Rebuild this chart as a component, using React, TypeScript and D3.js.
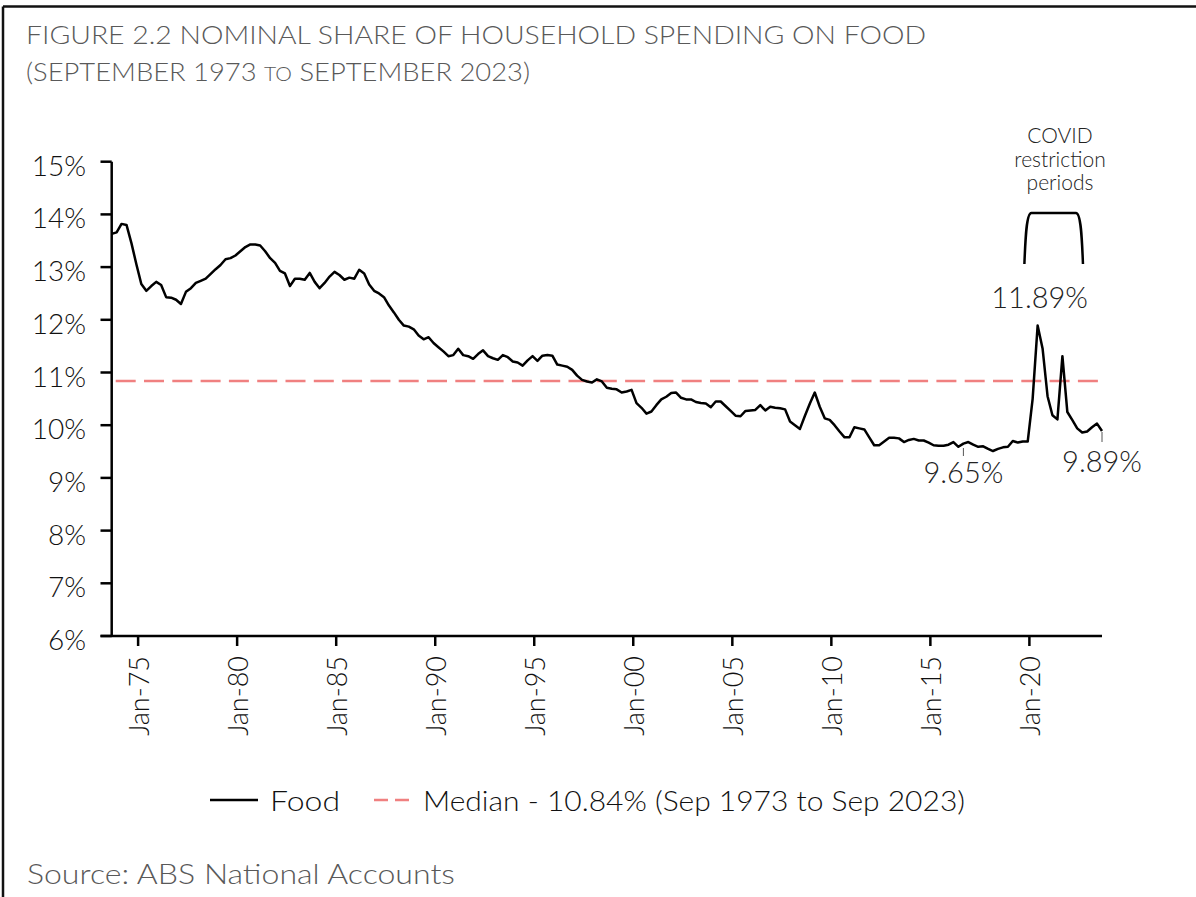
import React from "react";
import * as d3 from "d3";

// Quarterly nominal share of household spending on food (%), Sep 1973 .. Sep 2023
const foodShare: number[] = [
  13.63, 13.66, 13.82, 13.80, 13.45, 13.05, 12.68, 12.55, 12.64, 12.72,
  12.66, 12.43, 12.42, 12.38, 12.30, 12.53, 12.60, 12.70, 12.74, 12.78,
  12.87, 12.96, 13.04, 13.15, 13.17, 13.22, 13.30, 13.38, 13.43, 13.43,
  13.41, 13.30, 13.17, 13.08, 12.93, 12.88, 12.64, 12.78, 12.78, 12.76,
  12.89, 12.72, 12.60, 12.70, 12.82, 12.91, 12.85, 12.76, 12.80, 12.78,
  12.95, 12.88, 12.67, 12.55, 12.50, 12.43, 12.27, 12.14, 12.00, 11.89,
  11.87, 11.82, 11.70, 11.63, 11.67, 11.56, 11.48, 11.40, 11.31, 11.33,
  11.45, 11.33, 11.31, 11.26, 11.35, 11.42, 11.31, 11.27, 11.24, 11.33,
  11.29, 11.21, 11.19, 11.13, 11.23, 11.31, 11.22, 11.32, 11.33, 11.32,
  11.15, 11.13, 11.11, 11.05, 10.94, 10.86, 10.83, 10.81, 10.87, 10.83,
  10.71, 10.69, 10.68, 10.62, 10.64, 10.67, 10.42, 10.33, 10.22, 10.26,
  10.38, 10.49, 10.54, 10.61, 10.62, 10.52, 10.49, 10.49, 10.44, 10.42,
  10.41, 10.34, 10.45, 10.45, 10.36, 10.27, 10.18, 10.17, 10.27, 10.28,
  10.29, 10.38, 10.28, 10.35, 10.33, 10.32, 10.30, 10.07, 10.00, 9.93,
  10.18, 10.41, 10.62, 10.35, 10.13, 10.10, 10.00, 9.88, 9.77, 9.77,
  9.96, 9.94, 9.92, 9.77, 9.62, 9.62, 9.69, 9.76, 9.76, 9.75,
  9.68, 9.72, 9.74, 9.71, 9.71, 9.67, 9.62, 9.61, 9.61, 9.63,
  9.68, 9.59, 9.65, 9.68, 9.63, 9.59, 9.60, 9.55, 9.51, 9.55,
  9.58, 9.59, 9.70, 9.67, 9.69, 9.69, 10.50, 11.89, 11.45, 10.55,
  10.19, 10.11, 11.31, 10.25, 10.10, 9.94, 9.86, 9.88, 9.96, 10.03,
  9.89,
];

const startDate = new Date(1973, 8, 1);
const endDate = new Date(2023, 8, 1);
const yTicks: number[] = [6, 7, 8, 9, 10, 11, 12, 13, 14, 15];
const xTickYears: number[] = [1975, 1980, 1985, 1990, 1995, 2000, 2005, 2010, 2015, 2020];
const MEDIAN = 10.84;
const covidPeriod: Date[] = [new Date(2019, 9, 1), new Date(2022, 8, 15)];
const peakLabel = { date: new Date(2020, 5, 1), value: 11.89, text: "11.89%" };
const lowLabel = { date: new Date(2016, 8, 1), value: 9.65, text: "9.65%" };
const lastLabel = { date: new Date(2023, 8, 1), value: 9.89, text: "9.89%" };

const FONT = "Lato, 'Noto Sans', sans-serif";
const GREY = "#595959";

export default function App() {
  const W = 1196;
  const H = 897;
  const x = d3.scaleTime().domain([startDate, endDate]).range([111.7, 1102]);
  const y = d3.scaleLinear().domain([6, 15]).range([636, 161.7]);
  const data = foodShare.map((v, i) => ({ date: new Date(1973, 8 + 3 * i, 1), value: v }));
  const line = d3
    .line<{ date: Date; value: number }>()
    .x((d) => x(d.date))
    .y((d) => y(d.value));

  const cx0 = x(covidPeriod[0]);
  const cx1 = x(covidPeriod[1]);
  const bTop = 213;
  const bBot = 264;
  const bracket = `M${cx0},${bBot} C${cx0 + 1},${bTop + 25} ${cx0 + 2},${bTop} ${cx0 + 7},${bTop} L${cx1 - 7},${bTop} C${cx1 - 2},${bTop} ${cx1 - 1},${bTop + 25} ${cx1},${bBot}`;

  return (
    <svg
      width={W}
      height={H}
      style={{ position: "absolute", left: 0, top: 0, background: "#fff" }}
      fontFamily={FONT}
      fontWeight={300}
    >
      <rect x={0} y={0} width={W} height={H} fill="#fff" />
      {/* frame */}
      <line x1={3} y1={6.5} x2={W} y2={6.5} stroke="#111" strokeWidth={2.5} />
      <line x1={3} y1={6.5} x2={3} y2={H} stroke="#111" strokeWidth={2.5} />

      {/* title */}
      <text x={26} y={44} fontSize={26} fill={GREY} textLength={900} lengthAdjust="spacingAndGlyphs">
        FIGURE 2.2 NOMINAL SHARE OF HOUSEHOLD SPENDING ON FOOD
      </text>
      <text x={26} y={81} fontSize={26} fill={GREY} textLength={504} lengthAdjust="spacingAndGlyphs">
        (SEPTEMBER 1973 <tspan fontSize={20}>TO</tspan> SEPTEMBER 2023)
      </text>

      {/* median line */}
      <line
        x1={x(startDate)}
        x2={x(endDate)}
        y1={y(MEDIAN)}
        y2={y(MEDIAN)}
        stroke="#F08080"
        strokeWidth={2.5}
        strokeDasharray="20,8.3"
        strokeDashoffset={-4}
      />

      {/* y axis */}
      <line x1={111.7} x2={111.7} y1={y(15)} y2={y(6)} stroke="#000" strokeWidth={2.5} />
      {yTicks.map((t) => (
        <g key={t}>
          <line x1={100.5} x2={111.7} y1={y(t)} y2={y(t)} stroke="#000" strokeWidth={2.5} />
          <text x={86} y={y(t) + 3} fontSize={28} textAnchor="end" dominantBaseline="central" fill="#111">
            {t}%
          </text>
        </g>
      ))}

      {/* x axis */}
      <line x1={100.5} x2={x(endDate)} y1={y(6)} y2={y(6)} stroke="#000" strokeWidth={2.5} />
      {xTickYears.map((yr) => {
        const xx = x(new Date(yr, 0, 1));
        return (
          <g key={yr}>
            <line x1={xx} x2={xx} y1={y(6)} y2={y(6) + 10} stroke="#000" strokeWidth={2.5} />
            <text
              transform={`translate(${xx},656) rotate(-90)`}
              fontSize={27}
              textAnchor="end"
              dominantBaseline="central"
              fill="#111"
            >
              {`Jan-${String(yr % 100).padStart(2, "0")}`}
            </text>
          </g>
        );
      })}

      {/* food line */}
      <path d={line(data) || ""} fill="none" stroke="#000" strokeWidth={2.5} strokeLinejoin="round" />

      {/* covid bracket */}
      <path d={bracket} fill="none" stroke="#000" strokeWidth={2.5} />
      <g fontSize={21} textAnchor="middle" fill="#222">
        <text x={1060} y={143}>COVID</text>
        <text x={1060} y={167}>restriction</text>
        <text x={1060} y={190}>periods</text>
      </g>

      {/* annotations */}
      <text x={x(peakLabel.date) + 2} y={308} fontSize={29} textAnchor="middle" fill="#222">
        {peakLabel.text}
      </text>
      <line x1={x(lowLabel.date)} x2={x(lowLabel.date)} y1={448} y2={456} stroke="#555" strokeWidth={1} />
      <text x={x(lowLabel.date)} y={483} fontSize={29} textAnchor="middle" fill="#222">
        {lowLabel.text}
      </text>
      <line x1={x(lastLabel.date)} x2={x(lastLabel.date)} y1={432} y2={442} stroke="#555" strokeWidth={1} />
      <text x={x(lastLabel.date)} y={472} fontSize={29} textAnchor="middle" fill="#222">
        {lastLabel.text}
      </text>

      {/* legend */}
      <line x1={210} x2={258} y1={800} y2={800} stroke="#000" strokeWidth={2.5} />
      <text x={270} y={800} fontSize={27} dominantBaseline="central" fill="#111" textLength={70} lengthAdjust="spacingAndGlyphs">
        Food
      </text>
      <line x1={374} x2={410} y1={800} y2={800} stroke="#F08080" strokeWidth={2.5} strokeDasharray="14,7" />
      <text x={423} y={800} fontSize={27} dominantBaseline="central" fill="#111" textLength={542} lengthAdjust="spacingAndGlyphs">
        Median - 10.84% (Sep 1973 to Sep 2023)
      </text>

      {/* source */}
      <text x={27} y={884} fontSize={27} fill={GREY} textLength={428} lengthAdjust="spacingAndGlyphs">
        Source: ABS National Accounts
      </text>
    </svg>
  );
}
